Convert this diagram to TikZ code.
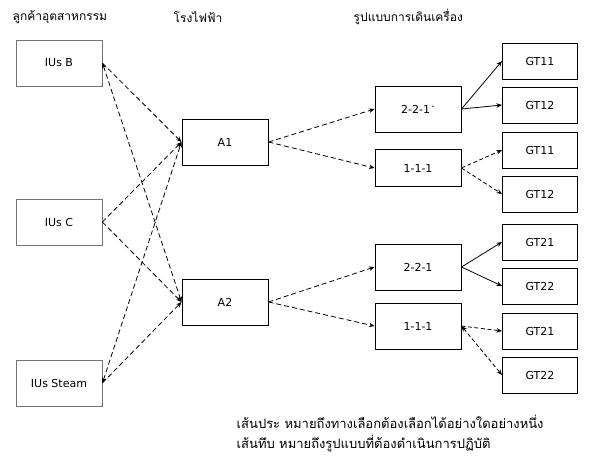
\documentclass[tikz,border=0pt]{standalone}
\usepackage{fontspec}
\setmainfont{DejaVu Sans}
\newfontfamily\thaifont[Script=Thai]{Loma}
\usetikzlibrary{arrows.meta}

\begin{document}
\begin{tikzpicture}[->,
>={Stealth[length=5.5pt,width=4.5pt]},
x=1pt, y=-1pt,
line width=0.8pt,
block/.style={draw, fill=white, rectangle, line width=1pt, minimum width=86pt, minimum height=46pt, font=\fontsize{11}{13}\selectfont},
gt/.style={block, minimum width=75pt, minimum height=36pt},
opt/.style={dash pattern=on 5pt off 3pt},
head/.style={font=\thaifont\fontsize{12}{14}\selectfont},
note/.style={font=\thaifont\fontsize{13}{16}\selectfont, anchor=west}]

\useasboundingbox (0,0) rectangle (591,467);

% headers
\node[head, anchor=west]	(h1) at (9,17)		{ลูกค้าอุตสาหกรรม};
\node[head]			(h2) at (198,17)	{โรงไฟฟ้า};
\node[head, anchor=west]	(h3) at (350,17)	{รูปแบบการเดินเครื่อง};

% customers
\node[block, draw=gray!90!black, line width=0.8pt]	(B)	at (59,63)	{IUs B};
\node[block, draw=gray!90!black, line width=0.8pt]	(C)	at (59,222)	{IUs C};
\node[block, draw=gray!90!black, line width=0.8pt]	(S)	at (59,383)	{IUs Steam};

% plants
\node[block]			(A1)	at (225,142)	{A1};
\node[block]			(A2)	at (225,302)	{A2};

% modes
\node[block]			(M1)	at (418,109)	{2-2-1\,\textsuperscript{\tiny *}};
\node[block, minimum height=37pt]	(N1)	at (418,168)	{1-1-1};
\node[block]			(M2)	at (418,267)	{2-2-1};
\node[block]			(N2)	at (418,326)	{1-1-1};

% units
\node[gt]	(G11)	at (540,61)	{GT11};
\node[gt]	(G12)	at (540,105)	{GT12};
\node[gt]	(G11b)	at (540,150)	{GT11};
\node[gt]	(G12b)	at (540,194)	{GT12};
\node[gt]	(G21)	at (540,242)	{GT21};
\node[gt]	(G22)	at (540,286)	{GT22};
\node[gt]	(G21b)	at (540,331)	{GT21};
\node[gt]	(G22b)	at (540,375)	{GT22};

% notes
\node[note]	(n1) at (233,422)	{เส้นประ หมายถึงทางเลือกต้องเลือกได้อย่างใดอย่างหนึ่ง};
\node[note]	(n2) at (233,443)	{เส้นทึบ หมายถึงรูปแบบที่ต้องดำเนินการปฏิบัติ};

\path[opt]
 (B.east)	edge			(A1.west)
 (B.east)	edge[<->]		(A2.west)
 (C.east)	edge			(A1.west)
 (C.east)	edge			(A2.west)
 (S.east)	edge[<->]		(A1.west)
 (S.east)	edge			(A2.west)

 (A1.east)	edge			(M1.west)
 (A1.east)	edge			(N1.west)
 (A2.east)	edge			(M2.west)
 (A2.east)	edge			(N2.west);

\path[dash pattern=on 4pt off 2.5pt]
 (N1.east)	edge			(G11b.west)
 (N1.east)	edge			(G12b.west)
 (N2.east)	edge			(G21b.west)
 (N2.east)	edge[<->]		(G22b.west);

\path
 (M1.east)	edge			(G11.west)
 (M1.east)	edge			(G12.west)
 (M2.east)	edge			(G21.west)
 (M2.east)	edge			(G22.west);

\end{tikzpicture}
\end{document}
